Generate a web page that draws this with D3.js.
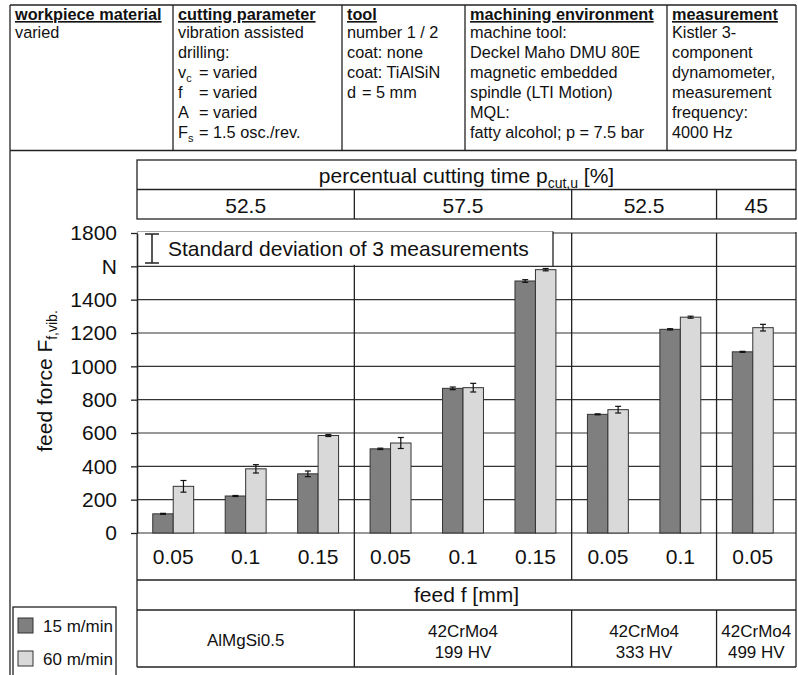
<!DOCTYPE html>
<html>
<head>
<meta charset="utf-8">
<script src="https://cdn.jsdelivr.net/npm/d3@7"></script>
<style>
body { margin: 0; background: #fff; }
svg text { font-family: "Liberation Sans", Arial, sans-serif; fill: #111; white-space: pre; }
</style>
</head>
<body>
<div id="chart"></div>
<script>
// values
var feeds = ["0.05", "0.1", "0.15", "0.05", "0.1", "0.15", "0.05", "0.1", "0.05"];
var series = ["15 m/min", "60 m/min"];
var force15 = [115, 222, 355, 505, 868, 1512, 712, 1222, 1087];
var force60 = [280, 385, 585, 540, 872, 1580, 740, 1295, 1232];
var sd15 = [3, 3, 17, 4, 8, 8, 3, 4, 3];
var sd60 = [35, 25, 6, 33, 26, 7, 20, 6, 20];
var groupSizes = [3, 3, 2, 1];
var cutTime = ["52.5", "57.5", "52.5", "45"];
var materials = [["AlMgSi0.5"], ["42CrMo4", "199 HV"], ["42CrMo4", "333 HV"], ["42CrMo4", "499 HV"]];
var yTicks = [0, 200, 400, 600, 800, 1000, 1200, 1400, 1600, 1800];

// header table (\t = jump to the "=" column, _{..} = subscript)
var headTitles = ["workpiece material", "cutting parameter", "tool", "machining environment", "measurement"];
var headLines = [
	["varied"],
	["vibration assisted", "drilling:", "v_{c}\t= varied", "f\t= varied", "A\t= varied", "F_{s}\t= 1.5 osc./rev."],
	["number 1 / 2", "coat: none", "coat: TiAlSiN", "d\t= 5 mm"],
	["machine tool:", "Deckel Maho DMU 80E", "magnetic embedded", "spindle (LTI Motion)", "MQL:", "fatty alcohol; p = 7.5 bar"],
	["Kistler 3-", "component", "dynamometer,", "measurement", "frequency:", "4000 Hz"]
];

var W = 798, H = 675;
var ink = "#222";
var svg = d3.select("#chart").append("svg")
	.attr("width", W)
	.attr("height", H);

function hline(x1, x2, yy, col, sw) {
	svg.append("line").attr("x1", x1).attr("x2", x2).attr("y1", yy).attr("y2", yy)
		.attr("stroke", col || ink).attr("stroke-width", sw || 1.3);
}
function vline(xx, y1, y2, col, sw) {
	svg.append("line").attr("x1", xx).attr("x2", xx).attr("y1", y1).attr("y2", y2)
		.attr("stroke", col || ink).attr("stroke-width", sw || 1.3);
}

// ---- header table ----
var colX = [10, 173, 342, 465, 667, 796];
var tabStop = {1: 21, 2: 15};
hline(10, 796, 5);
hline(10, 796, 150.5);
colX.forEach(function(cx) { vline(cx, 5, 150.5); });
vline(10, 150.5, 675);

headTitles.forEach(function(t, c) {
	svg.append("text")
		.attr("x", colX[c] + 5).attr("y", 20)
		.style("font-size", "16.3px").style("font-weight", "bold")
		.style("text-decoration", "underline")
		.text(t);
	headLines[c].forEach(function(line, j) {
		var baseY = 38 + j * 20;
		var txt = svg.append("text")
			.attr("x", colX[c] + 5).attr("y", baseY)
			.style("font-size", "16.3px");
		line.split("\t").forEach(function(part, p) {
			part.split(/(_\{[^}]*\})/).forEach(function(seg, s) {
				if (!seg) return;
				var ts = txt.append("tspan");
				if (p > 0 && s === 0) ts.attr("x", colX[c] + 5 + tabStop[c]);
				if (seg.indexOf("_{") === 0) {
					ts.text(seg.slice(2, -1)).style("font-size", "11px").attr("y", baseY + 4);
				} else {
					ts.text(seg).attr("y", baseY);
				}
			});
		});
	});
});

// ---- chart ----
var plotL = 137, plotR = 796, barR = 789;
var y = d3.scaleLinear().domain([0, 1800]).range([533, 233]);
var x0 = d3.scaleBand().domain(d3.range(feeds.length)).range([plotL, barR]);
var x1 = d3.scaleBand().domain(series).range([0, x0.bandwidth()]).paddingOuter(0.77);
var colour = d3.scaleOrdinal().domain(series).range(["#7f7f7f", "#d9d9d9"]);

var groups = [];
var k = 0;
groupSizes.forEach(function(n, g) {
	var left = x0(k);
	var right = (g === groupSizes.length - 1) ? plotR : x0(k + n - 1) + x0.bandwidth();
	groups.push({left: left, right: right, time: cutTime[g], mat: materials[g]});
	k += n;
});

// percentual cutting time table
svg.append("rect").attr("x", plotL).attr("y", 160).attr("width", plotR - plotL).attr("height", 59)
	.attr("fill", "none").attr("stroke", ink).attr("stroke-width", 1.3);
hline(plotL, plotR, 189.5);
groups.slice(1).forEach(function(g) { vline(g.left, 189.5, 219); });
var pt = svg.append("text").attr("x", (plotL + plotR) / 2).attr("y", 183)
	.attr("text-anchor", "middle").style("font-size", "21px");
pt.append("tspan").text("percentual cutting time p");
pt.append("tspan").text("cut,u").style("font-size", "14px").attr("dy", 5);
pt.append("tspan").text(" [%]").attr("dy", -5);
svg.selectAll(".ctime").data(groups).join("text")
	.attr("class", "ctime")
	.attr("x", function(g) { return (g.left + g.right) / 2; })
	.attr("y", 213)
	.attr("text-anchor", "middle").style("font-size", "21px")
	.text(function(g) { return g.time; });

// grid lines
svg.append("g").selectAll("line").data(yTicks).join("line")
	.attr("x1", plotL).attr("x2", plotR)
	.attr("y1", function(d) { return y(d); }).attr("y2", function(d) { return y(d); })
	.attr("stroke", "#333").attr("stroke-width", 1.2);

// group separators through plot and tick row
groups.slice(1).forEach(function(g) { vline(g.left, y(1800), 580); });
vline(plotR, y(1800) - 1, 667);

// standard deviation note
svg.append("rect").attr("x", plotL + 1).attr("y", 231).attr("width", 553 - plotL - 1).attr("height", y(1600) - 232.5)
	.attr("fill", "#fff");
hline(plotL, 553, 231.5, "#aaa", 1.2);
vline(553, 231.5, y(1600));
vline(152, 234, 263, ink, 1.5);
hline(145, 159, 234, ink, 1.5);
hline(145, 159, 263, ink, 1.5);
svg.append("text").attr("x", 168).attr("y", 256).style("font-size", "21px")
	.text("Standard deviation of 3 measurements");

// bars
var rows = feeds.map(function(f, i) {
	return {i: i, vals: [
		{s: series[0], v: force15[i], sd: sd15[i]},
		{s: series[1], v: force60[i], sd: sd60[i]}
	]};
});
var cat = svg.append("g").selectAll("g").data(rows).join("g")
	.attr("transform", function(d) { return "translate(" + x0(d.i) + ",0)"; });
cat.selectAll("rect").data(function(d) { return d.vals; }).join("rect")
	.attr("x", function(d) { return x1(d.s); })
	.attr("y", function(d) { return y(d.v); })
	.attr("width", x1.bandwidth())
	.attr("height", function(d) { return y(0) - y(d.v); })
	.attr("fill", function(d) { return colour(d.s); })
	.attr("stroke", "#333").attr("stroke-width", 1);

// error bars
var eb = cat.selectAll(".err").data(function(d) { return d.vals; }).join("g").attr("class", "err");
eb.append("line")
	.attr("x1", function(d) { return x1(d.s) + x1.bandwidth() / 2; })
	.attr("x2", function(d) { return x1(d.s) + x1.bandwidth() / 2; })
	.attr("y1", function(d) { return y(d.v - d.sd); })
	.attr("y2", function(d) { return y(d.v + d.sd); });
[-1, 1].forEach(function(sgn) {
	eb.append("line")
		.attr("x1", function(d) { return x1(d.s) + x1.bandwidth() / 2 - 3; })
		.attr("x2", function(d) { return x1(d.s) + x1.bandwidth() / 2 + 3; })
		.attr("y1", function(d) { return y(d.v + sgn * d.sd); })
		.attr("y2", function(d) { return y(d.v + sgn * d.sd); });
});
eb.selectAll("line").attr("stroke", "#111").attr("stroke-width", 1.2);

// y axis
var yAxis = d3.axisLeft(y)
	.tickValues(yTicks)
	.tickSize(6)
	.tickSizeOuter(0)
	.tickPadding(14)
	.tickFormat(function(d) { return d === 1600 ? "N" : d; });
var ya = svg.append("g").attr("transform", "translate(" + plotL + ",0)").call(yAxis);
ya.attr("font-family", null).attr("font-size", null);
ya.selectAll("text").style("font-size", "21px").attr("fill", "#111");
ya.selectAll("line").attr("stroke", ink).attr("stroke-width", 1.3);
ya.select(".domain").attr("stroke", ink).attr("stroke-width", 1.6);

var yl = svg.append("text").attr("transform", "translate(52,381) rotate(-90)")
	.attr("text-anchor", "middle").style("font-size", "21px");
yl.append("tspan").text("feed force F");
yl.append("tspan").text("f,vib.").style("font-size", "14px").attr("dy", 5);

// bottom table: feed values, axis title, materials
vline(plotL, 533, 667);
hline(plotL, plotR, 580);
hline(plotL, plotR, 610);
hline(plotL, plotR, 667);
groups.slice(1).forEach(function(g) { vline(g.left, 610, 667); });

svg.selectAll(".feed").data(feeds).join("text")
	.attr("class", "feed")
	.attr("x", function(d, i) { return x0(i) + x0.bandwidth() / 2; })
	.attr("y", 564)
	.attr("text-anchor", "middle").style("font-size", "21px")
	.text(function(d) { return d; });
svg.append("text").attr("x", (plotL + plotR) / 2).attr("y", 602)
	.attr("text-anchor", "middle").style("font-size", "21px")
	.text("feed f [mm]");

var mat = svg.selectAll(".mat").data(groups).join("text")
	.attr("class", "mat")
	.attr("text-anchor", "middle").style("font-size", "17px");
mat.selectAll("tspan").data(function(g) {
		return g.mat.map(function(t, j) { return {t: t, j: j, n: g.mat.length, cx: (g.left + g.right) / 2}; });
	}).join("tspan")
	.attr("x", function(d) { return d.cx; })
	.attr("y", function(d) { return d.n === 1 ? 646 : 637 + d.j * 21; })
	.text(function(d) { return d.t; });

// series legend
svg.append("rect").attr("x", 13).attr("y", 607).attr("width", 103).attr("height", 80)
	.attr("fill", "#fff").attr("stroke", ink).attr("stroke-width", 1.3);
var leg = svg.selectAll(".leg").data(series).join("g")
	.attr("class", "leg")
	.attr("transform", function(d, i) { return "translate(18," + (618 + i * 33) + ")"; });
leg.append("rect").attr("width", 15).attr("height", 15)
	.attr("fill", function(d) { return colour(d); })
	.attr("stroke", "#333").attr("stroke-width", 1);
leg.append("text").attr("x", 25).attr("y", 14).style("font-size", "17px")
	.text(function(d) { return d; });
</script>
</body>
</html>
